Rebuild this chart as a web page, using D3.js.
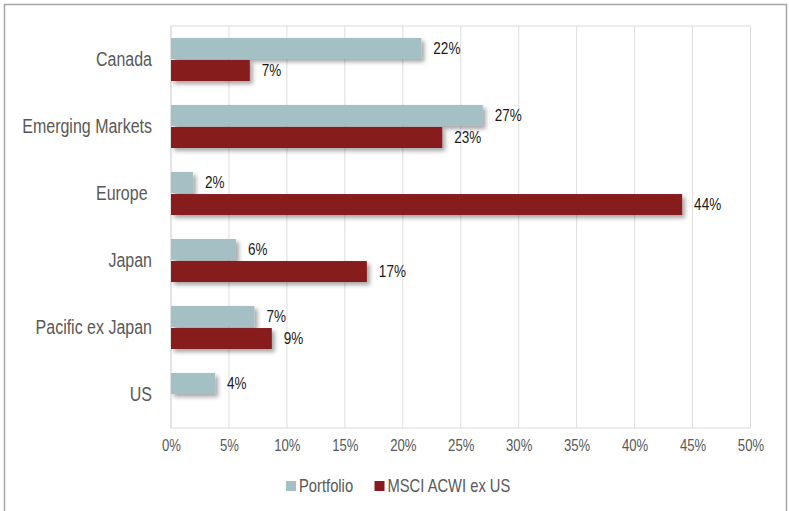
<!DOCTYPE html>
<html><head><meta charset="utf-8">
<script src="https://cdn.jsdelivr.net/npm/d3@7"></script>
<style>
html,body{margin:0;padding:0;background:#fff;}
svg text{font-family:"Liberation Sans",Arial,sans-serif;}
</style></head>
<body><svg id="chart" width="789" height="511"></svg>
<script>
const categories = ["Canada","Emerging Markets","Europe ","Japan","Pacific ex Japan","US"];
const seriesNames = ["Portfolio","MSCI ACWI ex US"];
const portfolio = [21.6, 26.9, 1.9, 5.6, 7.2, 3.8];
const msci = [6.8, 23.4, 44.1, 16.9, 8.7, 0];
const tickValues = [0,5,10,15,20,25,30,35,40,45,50];
const colors = ["#a4c0c4","#871a1f"];
const NARROW = "scale(0.82,1)";

const svg = d3.select("#chart");
const defs = svg.append("defs");
const f = defs.append("filter").attr("id","sh").attr("x","-10%").attr("y","-20%").attr("width","130%").attr("height","180%");
f.append("feDropShadow").attr("dx",3).attr("dy",3).attr("stdDeviation",2).attr("flood-color","#000").attr("flood-opacity",0.35);

// outer frame
svg.append("rect").attr("x",4.5).attr("y",4.5).attr("width",782).attr("height",520)
  .attr("fill","none").attr("stroke","#a6a6a6").attr("stroke-width",1.5);

const x = d3.scaleLinear().domain([0,50]).range([171,750.5]);
const y = d3.scaleBand().domain(categories).range([26,428]);
const inner = d3.scaleBand().domain(seriesNames).range([-21.5,21.5]).paddingInner(0.05);

// grid
svg.append("g").selectAll("line").data(tickValues).join("line")
  .attr("x1",d=>x(d)).attr("x2",d=>x(d)).attr("y1",26).attr("y2",428)
  .attr("stroke","#dedede").attr("stroke-width",1);
svg.append("rect").attr("x",171).attr("y",26).attr("width",x(50)-171).attr("height",402)
  .attr("fill","none").attr("stroke","#d9d9d9").attr("stroke-width",1);

// x axis labels
const xAxis = d3.axisBottom(x).tickValues(tickValues).tickFormat(d=>d+"%").tickSize(0).tickPadding(0);
const gx = svg.append("g").attr("transform","translate(0,440)").call(xAxis);
gx.select(".domain").remove();
gx.selectAll("text").attr("fill","#595959").style("font-size","16px").attr("dy","0.71em").attr("transform",NARROW);

// y axis labels
const yAxis = d3.axisLeft(y).tickSize(0).tickPadding(0);
const gy = svg.append("g").attr("transform","translate(152,0)").call(yAxis);
gy.select(".domain").remove();
gy.selectAll("text").attr("x",0).attr("fill","#595959").style("font-size","19.5px").style("white-space","pre").attr("transform",NARROW);

const data = [];
categories.forEach((c,i)=>{
  data.push({c, s:seriesNames[0], v:portfolio[i]});
  data.push({c, s:seriesNames[1], v:msci[i]});
});
const shown = data.filter(d=>d.v>0);

svg.append("g").attr("filter","url(#sh)").selectAll("rect").data(shown).join("rect")
  .attr("x",x(0))
  .attr("y",d=>y(d.c)+y.bandwidth()/2+inner(d.s))
  .attr("width",d=>x(d.v)-x(0))
  .attr("height",inner.bandwidth())
  .attr("fill",d=>colors[seriesNames.indexOf(d.s)]);

svg.append("g").selectAll("g").data(shown).join("g")
  .attr("transform",d=>`translate(${x(d.v)+12},${y(d.c)+y.bandwidth()/2+inner(d.s)+inner.bandwidth()/2})`)
  .append("text")
  .attr("dy","0.35em").attr("transform",NARROW)
  .attr("fill","#1a1a1a").style("font-size","16.5px")
  .text(d=>Math.round(d.v)+"%");

// legend
const lg = svg.append("g").attr("transform","translate(286,486)");
const items = [{n:seriesNames[0],x:0},{n:seriesNames[1],x:88.5}];
items.forEach((it,i)=>{
  lg.append("rect").attr("x",it.x).attr("y",-5).attr("width",10).attr("height",10).attr("fill",colors[i]);
  lg.append("g").attr("transform",`translate(${it.x+13},0)`)
    .append("text").attr("dy","0.35em").attr("transform",NARROW)
    .attr("fill","#595959").style("font-size","18px").text(it.n);
});
</script></body></html>
